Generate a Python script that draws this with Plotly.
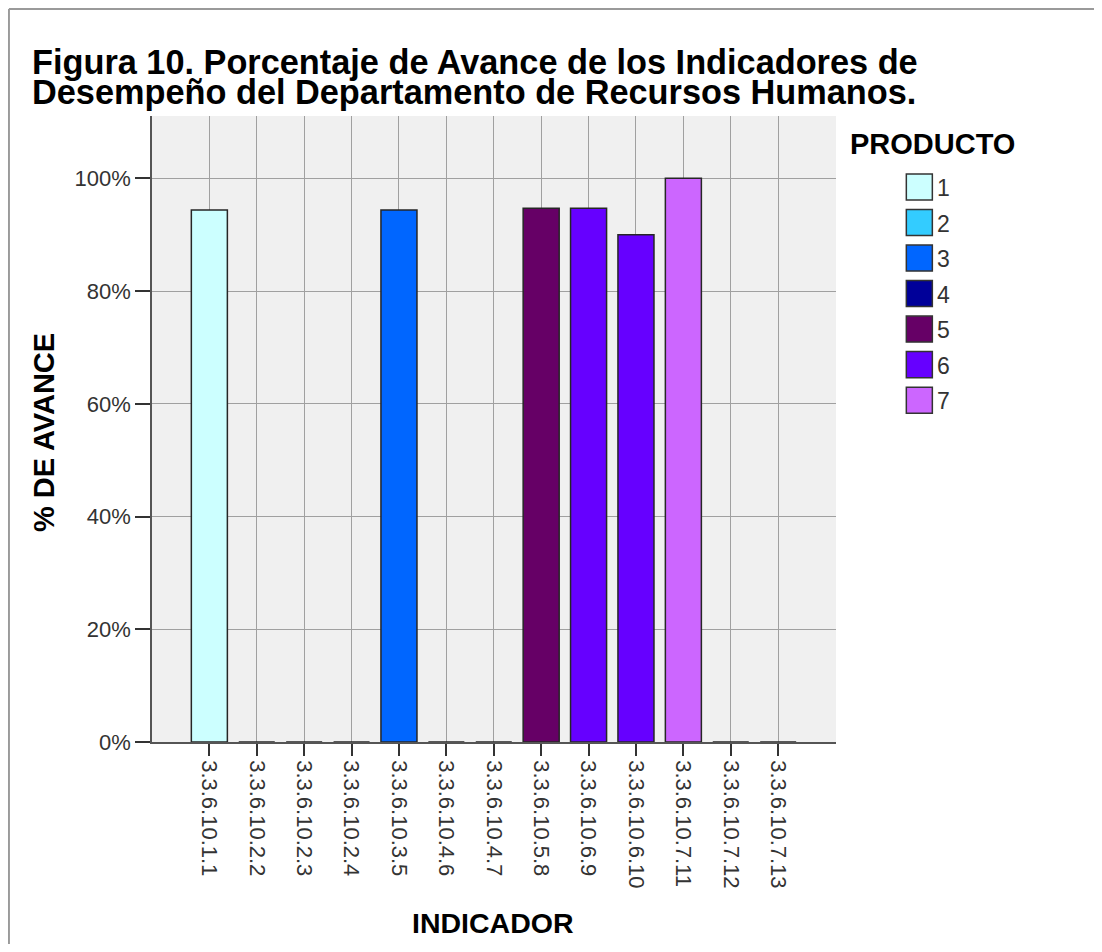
import plotly.graph_objects as go

INDICATORS = [
    "3.3.6.10.1.1", "3.3.6.10.2.2", "3.3.6.10.2.3", "3.3.6.10.2.4",
    "3.3.6.10.3.5", "3.3.6.10.4.6", "3.3.6.10.4.7", "3.3.6.10.5.8",
    "3.3.6.10.6.9", "3.3.6.10.6.10", "3.3.6.10.7.11", "3.3.6.10.7.12",
    "3.3.6.10.7.13",
]
AVANCE = [94.4, 0, 0, 0, 94.4, 0, 0, 94.7, 94.7, 90.0, 100.0, 0, 0]
PRODUCTO = [1, 2, 2, 2, 3, 4, 4, 5, 6, 6, 7, 7, 7]
PRODUCT_LABELS = [1, 2, 3, 4, 5, 6, 7]
PRODUCT_COLORS = ["#ccffff", "#33ccff", "#0066ff", "#000099", "#660066", "#6600ff", "#cc66ff"]
Y_TICKS = [0, 20, 40, 60, 80, 100]

FONT = "Liberation Sans, Arial, sans-serif"

# the page body has an 8px margin, so the figure starts at (8, 8)
OFF = 8
FIG_W, FIG_H = 1102 - 2 * OFF, 952 - 2 * OFF

# plot area in page pixels
L, R, T, B = 152, 835.7, 116, 741.7
W, H = R - L, B - T


def px(x):
    return (x - L) / W


def py(y):
    return (B - y) / H


fig = go.Figure()

for prod, color in zip(PRODUCT_LABELS, PRODUCT_COLORS):
    xs = [i for i, p in zip(INDICATORS, PRODUCTO) if p == prod]
    ys = [v for v, p in zip(AVANCE, PRODUCTO) if p == prod]
    fig.add_trace(
        go.Bar(
            x=xs,
            y=ys,
            name=str(prod),
            width=0.76,
            marker={"color": color, "line": {"color": "#262626", "width": 1.5}},
            showlegend=False,
        )
    )

annotations = [
    dict(text="<b>Figura 10. Porcentaje de Avance de los Indicadores de</b>",
         x=px(30), y=py(62), xanchor="left", yanchor="middle",
         font={"size": 34.3, "color": "#000000", "family": FONT}),
    dict(text="<b>Desempeño del Departamento de Recursos Humanos.</b>",
         x=px(30), y=py(92), xanchor="left", yanchor="middle",
         font={"size": 34.3, "color": "#000000", "family": FONT}),
    dict(text="<b>% DE AVANCE</b>", textangle=-90,
         x=px(44), y=py(432), xanchor="center", yanchor="middle",
         font={"size": 29, "color": "#000000", "family": FONT}),
    dict(text="<b>INDICADOR</b>",
         x=px(493), y=py(923), xanchor="center", yanchor="middle",
         font={"size": 28.5, "color": "#000000", "family": FONT}),
    dict(text="<b>PRODUCTO</b>",
         x=px(848), y=py(144), xanchor="left", yanchor="middle",
         font={"size": 29, "color": "#000000", "family": FONT}),
]

# outer frame: only top and left edges are visible in the page
frame = {"color": "#9a9a9a", "width": 2}
shapes = [
    dict(type="line", xref="paper", yref="paper", layer="below",
         x0=px(OFF + 1), x1=px(1110), y0=py(OFF + 1), y1=py(OFF + 1), line=frame),
    dict(type="line", xref="paper", yref="paper", layer="below",
         x0=px(OFF + 1), x1=px(OFF + 1), y0=py(OFF + 1), y1=py(960), line=frame),
]

# legend boxes
for k, (prod, color) in enumerate(zip(PRODUCT_LABELS, PRODUCT_COLORS)):
    cy = 187 + k * 35.5
    shapes.append(dict(type="rect", xref="paper", yref="paper",
                       x0=px(906), x1=px(932), y0=py(cy + 13), y1=py(cy - 13),
                       line={"color": "#333333", "width": 1.5}, fillcolor=color))
    annotations.append(dict(text=str(prod), x=px(935), y=py(cy + 1),
                            xanchor="left", yanchor="middle",
                            font={"size": 23, "color": "#333333", "family": FONT}))

for a in annotations:
    a.update(xref="paper", yref="paper", showarrow=False)

fig.update_layout(
    width=FIG_W,
    height=FIG_H,
    margin={"l": L - OFF, "r": FIG_W + OFF - R, "t": T - OFF, "b": FIG_H + OFF - B, "pad": 0},
    paper_bgcolor="#ffffff",
    plot_bgcolor="#f0f0f0",
    barmode="overlay",
    font={"family": FONT, "color": "#333333"},
    annotations=annotations,
    shapes=shapes,
    xaxis={
        "type": "category",
        "categoryorder": "array",
        "categoryarray": INDICATORS,
        "range": [-1.21, 13.22],
        "tickangle": 90,
        "tickfont": {"size": 22, "color": "#333333"},
        "ticks": "outside",
        "ticklen": 12,
        "tickwidth": 2,
        "tickcolor": "#333333",
        "showgrid": True,
        "gridcolor": "#a0a0a0",
        "gridwidth": 1,
        "showline": True,
        "linecolor": "#555555",
        "linewidth": 1.5,
        "zeroline": False,
    },
    yaxis={
        "range": [0, 111.06],
        "tickmode": "array",
        "tickvals": Y_TICKS,
        "ticktext": [f"{v}%" for v in Y_TICKS],
        "tickfont": {"size": 22, "color": "#333333"},
        "ticks": "outside",
        "ticklen": 15,
        "tickwidth": 2,
        "tickcolor": "#333333",
        "showgrid": True,
        "gridcolor": "#a0a0a0",
        "gridwidth": 1,
        "showline": True,
        "linecolor": "#555555",
        "linewidth": 1.5,
        "zeroline": False,
    },
)

fig.write_html("out.html")
